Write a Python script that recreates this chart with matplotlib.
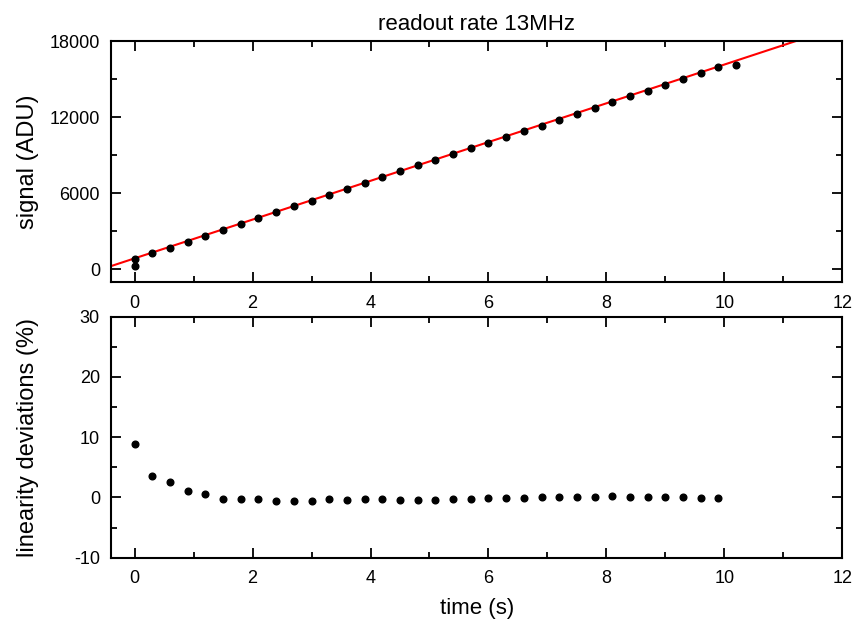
# readout rate 13MHz: signal vs time with linear fit, and linearity deviations
import matplotlib.pyplot as plt
import numpy as np

plt.rcParams['font.family'] = ['Liberation Sans', 'DejaVu Sans']
plt.rcParams['axes.unicode_minus'] = False

# signal data (ADU)
t_sig = [0.0, 0.0, 0.3, 0.6, 0.9, 1.2, 1.5, 1.8, 2.1, 2.4, 2.7, 3.0, 3.3, 3.6,
         3.9, 4.2, 4.5, 4.8, 5.1, 5.4, 5.7, 6.0, 6.3, 6.6, 6.9, 7.2, 7.5, 7.8,
         8.1, 8.4, 8.7, 9.0, 9.3, 9.6, 9.9, 10.2]
signal = [783, 259, 1254, 1699, 2170, 2641, 3139, 3611, 4055, 4500, 4971,
          5416, 5887, 6332, 6803, 7248, 7719, 8190, 8636, 9107, 9552, 9997,
          10442, 10913, 11332, 11803, 12274, 12720, 13164, 13635, 14080,
          14552, 14997, 15468, 15913, 16122]

# linear fit parameters
fit_intercept = 865
fit_slope = 1528

# linearity deviations (%)
t_dev = [0.0, 0.3, 0.6, 0.9, 1.2, 1.5, 1.8, 2.1, 2.4, 2.7, 3.0, 3.3, 3.6,
         3.9, 4.2, 4.5, 4.8, 5.1, 5.4, 5.7, 6.0, 6.3, 6.6, 6.9, 7.2, 7.5,
         7.8, 8.1, 8.4, 8.7, 9.0, 9.3, 9.6, 9.9]
deviation = [8.84, 3.59, 2.6, 1.0, 0.5, -0.27, -0.33, -0.33, -0.66, -0.66,
             -0.55, -0.33, -0.44, -0.33, -0.22, -0.44, -0.44, -0.38, -0.33,
             -0.33, -0.1, -0.1, -0.05, 0.12, 0.12, 0.0, 0.06, 0.28, 0.06,
             0.12, 0.0, 0.0, -0.05, -0.05]

fig = plt.figure(figsize=(8.58, 6.34), dpi=100)
ax1 = fig.add_axes([0.1294, 0.5552, 0.8523, 0.3801])
ax2 = fig.add_axes([0.1294, 0.1204, 0.8523, 0.3801])


def style(ax):
    for s in ax.spines.values():
        s.set_linewidth(1.5)
    ax.tick_params(which='both', direction='in', top=True, right=True,
                   width=1.3, labelsize=13)
    ax.tick_params(axis='x', pad=9)
    ax.tick_params(axis='y', pad=8)
    ax.tick_params(which='major', length=7)
    ax.tick_params(which='minor', length=4)
    ax.set_xlim(-0.4, 12)
    ax.set_xticks([0, 2, 4, 6, 8, 10, 12])
    ax.set_xticks([1, 3, 5, 7, 9, 11], minor=True)


# top panel
style(ax1)
tt = np.array([-0.4, 12])
ax1.plot(tt, fit_intercept + fit_slope * tt, color='#ff0000', lw=1.5, zorder=2)
ax1.plot(t_sig, signal, 'o', color='black', ms=4.8, zorder=3)
ax1.set_ylim(-1000, 18000)
ax1.set_yticks([0, 6000, 12000, 18000])
ax1.set_yticks([3000, 9000, 15000], minor=True)
ax1.set_ylabel('signal (ADU)', fontsize=17)
ax1.yaxis.set_label_coords(-0.099, 0.5)
ax1.set_title('readout rate 13MHz', fontsize=16, pad=8)

# bottom panel
style(ax2)
ax2.plot(t_dev, deviation, 'o', color='black', ms=4.8)
ax2.set_ylim(-10, 30)
ax2.set_yticks([-10, 0, 10, 20, 30])
ax2.set_yticks([-5, 5, 15, 25], minor=True)
ax2.set_ylabel('linearity deviations (%)', fontsize=17)
ax2.yaxis.set_label_coords(-0.099, 0.5)
ax2.set_xlabel('time (s)', fontsize=16, labelpad=8)

fig.savefig('out.png', dpi=100)
